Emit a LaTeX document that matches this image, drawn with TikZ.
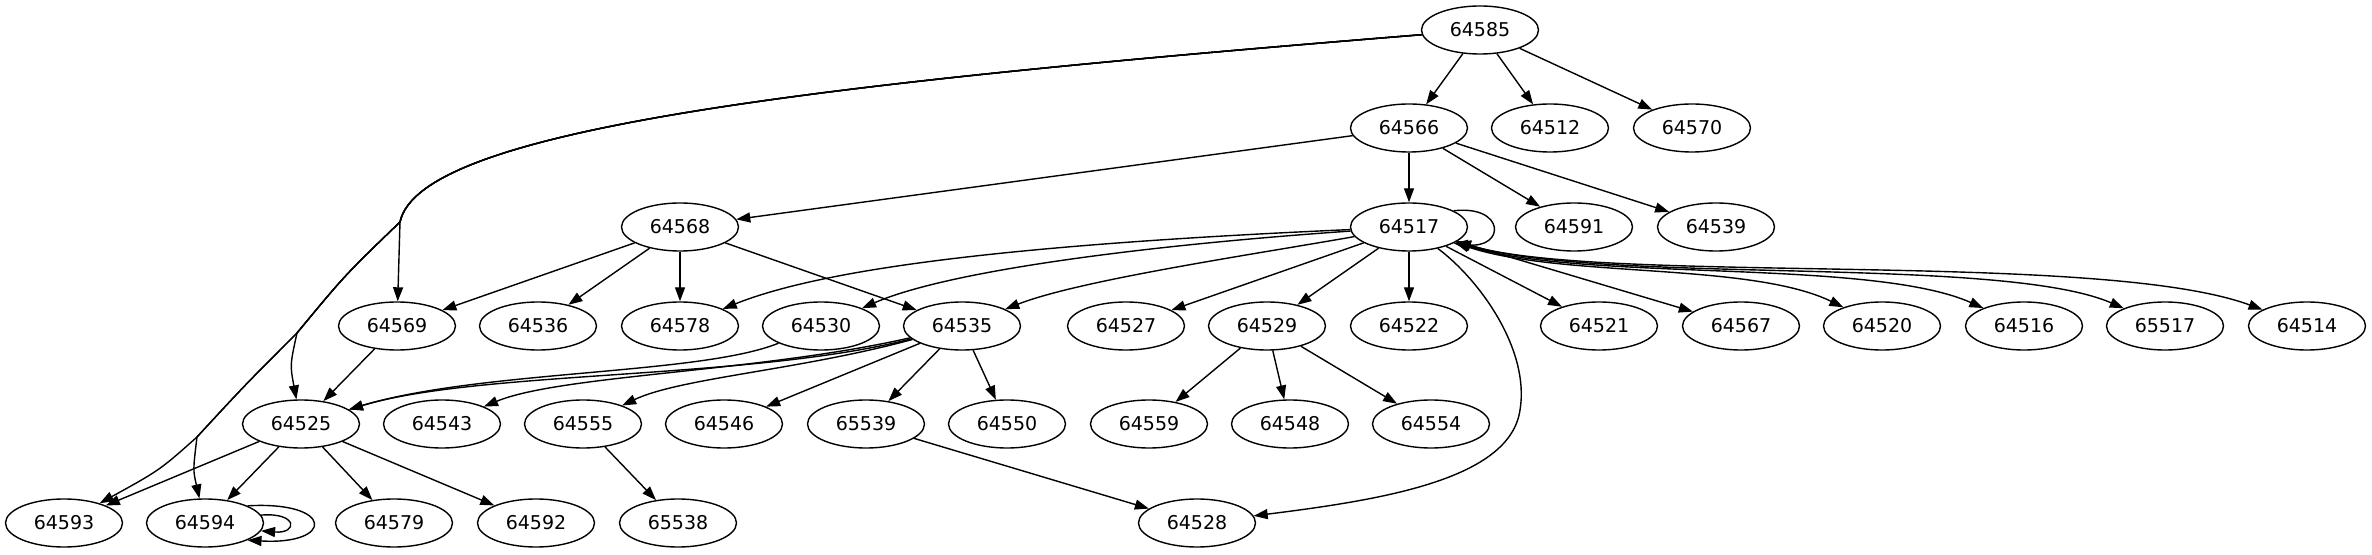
\documentclass[tikz,border=0pt]{standalone}
\usepackage{fontspec}
\setmainfont{DejaVu Sans}
\usetikzlibrary{shapes.geometric,arrows.meta}

\begin{document}
\begin{tikzpicture}[x=0.5pt,y=-0.5pt,
    vertex/.style={draw,ellipse,line width=0.7pt,minimum width=58.5pt,minimum height=24pt,inner sep=0pt,font=\fontsize{9.5}{11}\selectfont},
    edge/.style={line width=0.7pt,-{Stealth[length=7pt,width=5pt,inset=0pt]}},
    twoway/.style={line width=0.7pt,{Stealth[length=7pt,width=5pt,inset=0pt]}-{Stealth[length=7pt,width=5pt,inset=0pt]}}]
    \useasboundingbox (0,0) rectangle (2372,555);

    % Row 1 and 2
    \node[vertex] (n64585) at (1480,30) {64585};
    \node[vertex] (n64566) at (1409,128) {64566};
    \node[vertex] (n64512) at (1550,128) {64512};
    \node[vertex] (n64570) at (1692,128) {64570};

    % Row 3
    \node[vertex] (n64568) at (680,227) {64568};
    \node[vertex] (n64517) at (1409,227) {64517};
    \node[vertex] (n64591) at (1574,227) {64591};
    \node[vertex] (n64539) at (1716,227) {64539};

    % Row 4
    \node[vertex] (n64569) at (397,326) {64569};
    \node[vertex] (n64536) at (538,326) {64536};
    \node[vertex] (n64578) at (680,326) {64578};
    \node[vertex] (n64530) at (821,326) {64530};
    \node[vertex] (n64535) at (962,326) {64535};
    \node[vertex] (n64527) at (1126,326) {64527};
    \node[vertex] (n64529) at (1267,326) {64529};
    \node[vertex] (n64522) at (1409,326) {64522};
    \node[vertex] (n64521) at (1599,326) {64521};
    \node[vertex] (n64567) at (1741,326) {64567};
    \node[vertex] (n64520) at (1882,326) {64520};
    \node[vertex] (n64516) at (2024,326) {64516};
    \node[vertex] (n65517) at (2165,326) {65517};
    \node[vertex] (n64514) at (2307,326) {64514};

    % Row 5
    \node[vertex] (n64525) at (301,424) {64525};
    \node[vertex] (n64543) at (442,424) {64543};
    \node[vertex] (n64555) at (583,424) {64555};
    \node[vertex] (n64546) at (724,424) {64546};
    \node[vertex] (n65539) at (866,424) {65539};
    \node[vertex] (n64550) at (1007,424) {64550};
    \node[vertex] (n64559) at (1149,424) {64559};
    \node[vertex] (n64548) at (1290,424) {64548};
    \node[vertex] (n64554) at (1431,424) {64554};

    % Row 6
    \node[vertex] (n64593) at (64,523) {64593};
    \node[vertex] (n64594) at (205,523) {64594};
    \node[vertex] (n64579) at (394,523) {64579};
    \node[vertex] (n64592) at (536,523) {64592};
    \node[vertex] (n65538) at (678,523) {65538};
    \node[vertex] (n64528) at (1197,523) {64528};

    % Edges out of 64585
    \draw[edge] (n64585) -- (n64566);
    \draw[edge] (n64585) -- (n64512);
    \draw[edge] (n64585) -- (n64570);
    \coordinate (t1) at (400,222);
    \coordinate (t2) at (297,333);
    \coordinate (t3) at (197,437);
    \draw[edge] (n64585) .. controls (800,85) and (420,130) .. (t1) -- (n64569);
    \draw[edge] (n64585) .. controls (800,85) and (420,130) .. (t1) .. controls (345,275) .. (t2) .. controls (290,365) .. (n64525);
    \draw[edge] (n64585) .. controls (800,85) and (420,130) .. (t1) .. controls (345,275) .. (t2) .. controls (245,385) .. (t3) .. controls (193,470) .. (n64594);
    \draw[edge] (n64585) .. controls (800,85) and (420,130) .. (t1) .. controls (345,275) .. (t2) .. controls (245,385) .. (t3) .. controls (160,470) .. (n64593);

    % Edges out of 64566
    \draw[edge] (n64566) -- (n64568);
    \draw[edge] (n64566) -- (n64517);
    \draw[edge] (n64566) -- (n64591);
    \draw[edge] (n64566) -- (n64539);

    % Edges out of 64568
    \draw[edge] (n64568) -- (n64569);
    \draw[edge] (n64568) -- (n64536);
    \draw[edge] (n64568) -- (n64578);
    \draw[edge] (n64568) -- (n64535);

    % Edges out of 64517
    \draw[edge] (n64517.20) .. controls +(52,-6) and +(52,6) .. (n64517.-20);
    \draw[edge] (n64517) .. controls (1000,245) and (820,270) .. (n64578);
    \draw[edge] (n64517) .. controls (1150,245) and (950,270) .. (n64530);
    \draw[edge] (n64517) .. controls (1250,255) and (1080,280) .. (n64535);
    \draw[edge] (n64517) -- (n64527);
    \draw[edge] (n64517) -- (n64529);
    \draw[edge] (n64517) -- (n64522);
    \draw[edge] (n64517) -- (n64521);
    \draw[edge] (n64517) -- (n64567);
    \draw[twoway] (n64517) .. controls (1560,278) and (1750,262) .. (n64520);
    \draw[twoway] (n64517) .. controls (1580,282) and (1870,258) .. (n64516);
    \draw[twoway] (n64517) .. controls (1600,285) and (2000,255) .. (n65517);
    \draw[twoway] (n64517) .. controls (1600,285) and (2100,250) .. (n64514);
    \draw[edge] (n64517) .. controls (1480,280) and (1530,350) .. (1520,410) .. controls (1510,480) and (1380,500) .. (n64528);

    % Row 4 to row 5
    \draw[edge] (n64569) -- (n64525);
    \draw[edge] (n64530) .. controls (700,375) and (480,370) .. (n64525);
    \draw[edge] (n64535) .. controls (750,380) and (480,370) .. (n64525);
    \draw[edge] (n64535) .. controls (760,372) and (560,375) .. (n64543);
    \draw[edge] (n64535) .. controls (800,370) and (680,378) .. (n64555);
    \draw[edge] (n64535) -- (n64546);
    \draw[edge] (n64535) -- (n65539);
    \draw[edge] (n64535) -- (n64550);
    \draw[edge] (n64529) -- (n64559);
    \draw[edge] (n64529) -- (n64548);
    \draw[edge] (n64529) -- (n64554);

    % Row 5 to row 6
    \draw[edge] (n64525) -- (n64593);
    \draw[edge] (n64525) -- (n64594);
    \draw[edge] (n64525) -- (n64579);
    \draw[edge] (n64525) -- (n64592);
    \draw[edge] (n64555) -- (n65538);
    \draw[edge] (n65539) -- (n64528);
    \draw[edge] (n64594.8) .. controls +(37,-3) and +(37,3) .. (n64594.-8);
    \draw[edge] (n64594.22) .. controls +(87,-5) and +(87,5) .. (n64594.-22);
\end{tikzpicture}
\end{document}
